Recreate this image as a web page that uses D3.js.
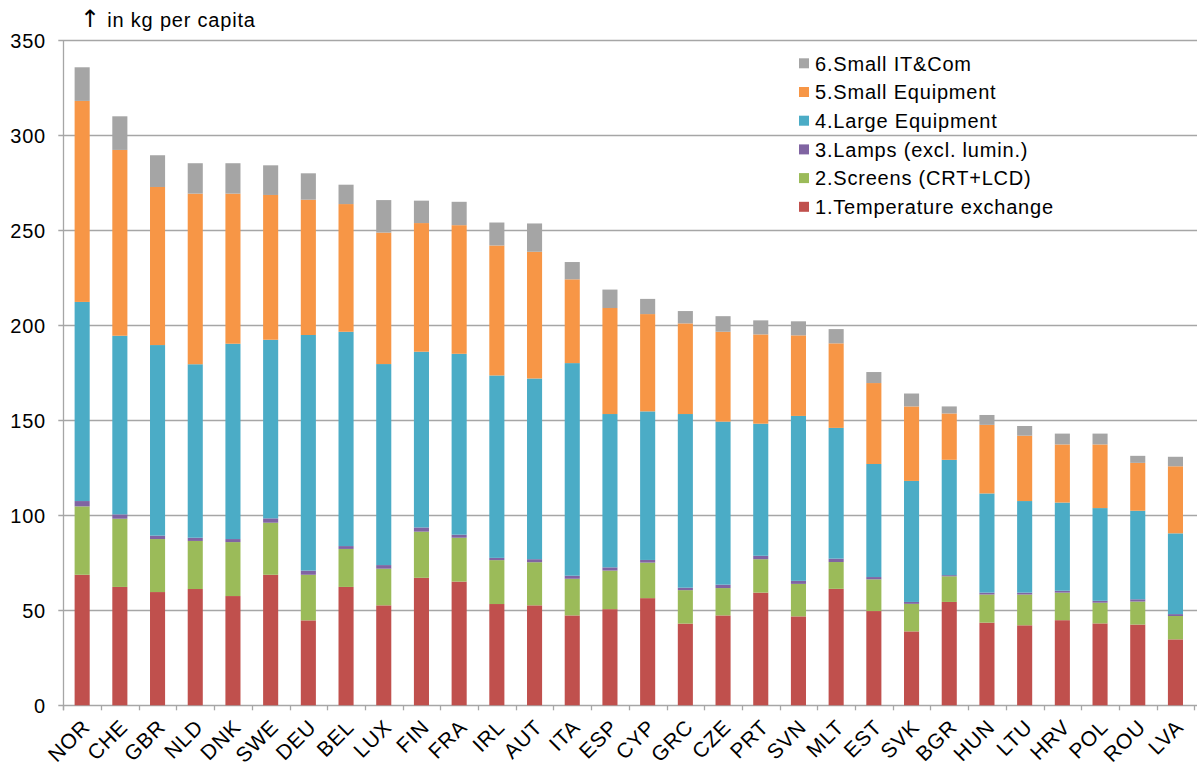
<!DOCTYPE html>
<html>
<head>
<meta charset="utf-8">
<style>
  body { margin: 0; background: #fff; }
  text { font-family: "Liberation Sans", Arial, sans-serif; fill: #000; font-size: 20px; letter-spacing: 0.8px; }
</style>
</head>
<body>
<svg width="1197" height="767"></svg>
<script src="https://d3js.org/d3.v7.min.js"></script>
<script>

// countries, sorted by total WEEE per capita
var countries = ["NOR","CHE","GBR","NLD","DNK","SWE","DEU","BEL","LUX","FIN","FRA","IRL","AUT","ITA","ESP",
                 "CYP","GRC","CZE","PRT","SVN","MLT","EST","SVK","BGR","HUN","LTU","HRV","POL","ROU","LVA"];

// kg per capita per category
var tempExchange = [68.7,62.3,59.6,61.2,57.5,68.7,44.7,62.3,52.6,67.1,65.1,53.3,52.6,47.3,50.6,
                    56.4,43.0,47.3,59.3,46.8,61.3,49.6,38.9,54.4,43.5,42.1,44.8,43.1,42.5,34.7];
var screens      = [36.0,35.9,27.9,25.3,28.4,27.4,24.0,20.0,19.3,24.3,23.1,23.1,22.7,19.3,20.3,
                    18.7,17.6,14.4,17.6,17.1,14.1,16.7,14.5,13.5,14.8,16.2,14.5,10.9,12.1,12.3];
var lamps        = [2.8,2.3,1.8,1.7,1.6,2.3,2.2,1.5,1.9,2.2,1.6,1.2,1.6,1.6,1.7,
                    1.4,1.3,1.8,1.8,1.6,1.8,1.2,1.0,0.6,1.0,1.0,1.0,1.0,1.2,1.0];
var largeEquip   = [104.8,94.0,100.3,91.3,102.8,94.0,124.0,112.8,105.8,92.5,95.2,96.0,95.1,111.9,80.7,
                    78.2,91.4,85.8,69.5,86.8,68.8,59.5,63.7,60.7,52.2,48.2,46.4,48.8,46.6,42.5];
var smallEquip   = [105.8,97.8,83.2,89.8,79.0,76.2,71.2,67.2,69.2,67.7,67.7,68.4,66.7,44.1,55.8,
                    51.2,47.7,47.3,47.0,42.4,44.5,42.6,39.2,24.4,36.1,34.4,30.6,33.5,25.2,35.3];
var smallIT      = [17.7,17.7,16.7,16.0,16.0,15.6,13.9,10.2,17.1,11.8,12.3,12.1,14.9,9.1,9.7,
                    8.0,6.5,8.2,7.4,7.4,7.5,5.8,6.8,3.7,5.2,5.1,5.7,5.7,3.7,5.0];

var seriesNames  = ["1.Temperature exchange","2.Screens (CRT+LCD)","3.Lamps (excl. lumin.)",
                    "4.Large Equipment","5.Small Equipment","6.Small IT&Com"];
var seriesColors = ["#c0504d","#9bbb59","#8064a2","#4bacc6","#f79646","#a5a5a5"];
var yTicks = [0,50,100,150,200,250,300,350];

var allSeries = [tempExchange, screens, lamps, largeEquip, smallEquip, smallIT];
var keys = d3.range(allSeries.length);
var rows = countries.map(function(c, i) {
  var r = { country: c };
  keys.forEach(function(k) { r[k] = allSeries[k][i]; });
  return r;
});
var stacked = d3.stack().keys(keys)(rows);

var svg = d3.select("svg");
var plotLeft = 63.3, plotRight = 1194.3, plotTop = 40.3, plotBottom = 705.3;

var x = d3.scaleBand().domain(countries).range([plotLeft, plotRight]).paddingInner(0.6).paddingOuter(0.3);
var y = d3.scaleLinear().domain([0, 350]).range([plotBottom, plotTop]);

// gridlines
svg.append("g").selectAll("line")
  .data(yTicks)
  .enter().append("line")
    .attr("x1", plotLeft - 5).attr("x2", 1197)
    .attr("y1", function(d) { return Math.round(y(d)) + 0.5; })
    .attr("y2", function(d) { return Math.round(y(d)) + 0.5; })
    .attr("stroke", "#a6a6a6").attr("stroke-width", 1.3);

// y axis line
svg.append("line")
  .attr("x1", Math.round(plotLeft) + 0.5).attr("x2", Math.round(plotLeft) + 0.5)
  .attr("y1", y(350)).attr("y2", plotBottom + 5)
  .attr("stroke", "#a6a6a6").attr("stroke-width", 1.3);

// y tick labels
svg.append("g").selectAll("text")
  .data(yTicks)
  .enter().append("text")
    .attr("x", 46)
    .attr("y", function(d) { return y(d); })
    .attr("dy", "0.36em")
    .attr("text-anchor", "end")
    .text(function(d) { return d; });

// x tick marks at band boundaries
var step = x.step();
svg.append("g").selectAll("line")
  .data(d3.range(countries.length + 1))
  .enter().append("line")
    .attr("x1", function(i) { return Math.round(plotLeft + i * step) + 0.5; })
    .attr("x2", function(i) { return Math.round(plotLeft + i * step) + 0.5; })
    .attr("y1", plotBottom).attr("y2", plotBottom + 5)
    .attr("stroke", "#a6a6a6").attr("stroke-width", 1.3);

// stacked bars
svg.append("g").selectAll("g")
  .data(stacked)
  .enter().append("g")
    .attr("fill", function(d) { return seriesColors[d.key]; })
  .selectAll("rect")
  .data(function(d) { return d; })
  .enter().append("rect")
    .attr("x", function(d) { return x(d.data.country); })
    .attr("width", x.bandwidth())
    .attr("y", function(d) { return y(d[1]); })
    .attr("height", function(d) { return y(d[0]) - y(d[1]); });

// x labels, rotated
svg.append("g").selectAll("text")
  .data(countries)
  .enter().append("text")
    .attr("transform", function(d) {
      return "translate(" + (x(d) + x.bandwidth() / 2 + 4) + "," + (plotBottom + 18) + ") rotate(-45)";
    })
    .attr("text-anchor", "end")
    .attr("dy", "0.35em")
    .style("font-size", "21px")
    .text(function(d) { return d; });

// unit label
var unit = svg.append("text")
  .attr("x", 80).attr("y", 27);
unit.append("tspan").style("font-size", "24px").style("font-family", "DejaVu Sans").text("\u2191");
unit.append("tspan").text(" in kg per capita");

// legend (top series first)
var legend = svg.append("g").selectAll("g")
  .data(keys.slice().reverse())
  .enter().append("g")
    .attr("transform", function(d, i) { return "translate(799," + (63.3 + i * 28.7) + ")"; });
legend.append("rect")
  .attr("x", 0).attr("y", -5).attr("width", 10).attr("height", 10)
  .attr("fill", function(d) { return seriesColors[d]; });
legend.append("text")
  .attr("x", 16).attr("dy", "0.36em")
  .text(function(d) { return seriesNames[d]; });

</script>
</body>
</html>
